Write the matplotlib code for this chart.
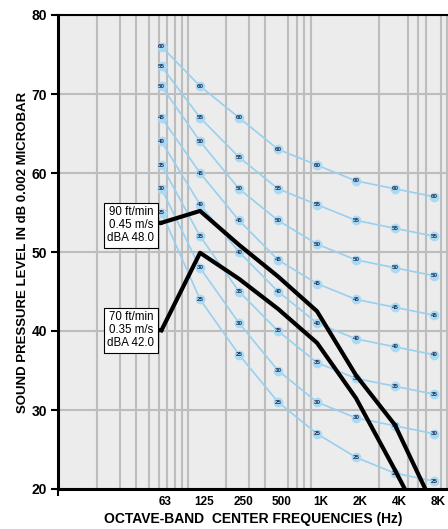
import numpy as np
import matplotlib
matplotlib.use('Agg')
import matplotlib.pyplot as plt
import matplotlib.ticker as mticker
import matplotlib.transforms as mtransforms

# octave band centre frequencies
bands = [63, 125, 250, 500, 1000, 2000, 4000, 8000]
band_labels = ['63', '125', '250', '500', '1K', '2K', '4K', '8K']

# NC curves
nc_names = [60, 55, 50, 45, 40, 35, 30, 25]
nc_60 = [76, 71, 67, 63, 61, 59, 58, 57]
nc_55 = [73.5, 67, 62, 58, 56, 54, 53, 52]
nc_50 = [71, 64, 58, 54, 51, 49, 48, 47]
nc_45 = [67, 60, 54, 49, 46, 44, 43, 42]
nc_40 = [64, 56, 50, 45, 41, 39, 38, 37]
nc_35 = [61, 52, 45, 40, 36, 34, 33, 32]
nc_30 = [58, 48, 41, 35, 31, 29, 28, 27]
nc_25 = [55, 44, 37, 31, 27, 24, 22, 21]
nc_curves = [nc_60, nc_55, nc_50, nc_45, nc_40, nc_35, nc_30, nc_25]

# measured spectra
spl_90fpm = [53.7, 55.2, 50.9, 46.9, 42.5, 34.4, 28.1, 17.7]
spl_70fpm = [40.1, 49.9, 46.6, 42.8, 38.5, 31.5, 22.4, 12.9]
box_90fpm = '90 ft/min\n0.45 m/s\ndBA 48.0'
box_70fpm = '70 ft/min\n0.35 m/s\ndBA 42.0'

plt.rcParams['font.family'] = ['Liberation Sans Narrow', 'Liberation Sans', 'DejaVu Sans']

fig = plt.figure(figsize=(4.48, 5.29), dpi=100)
ax = fig.add_axes([58/448, 40/529, 390/448, 474/529])
ax.set_facecolor('#ececec')

ax.set_xscale('log')
ax.set_xlim(10, 10**(1 + 390/129.5))
ax.set_ylim(20, 80)

# grid
grid_x = [m * 10**d for d in (1, 2, 3) for m in range(2, 11)]
ax.set_xticks(grid_x, minor=True)
ax.xaxis.set_minor_formatter(mticker.NullFormatter())
ax.tick_params(axis='x', which='minor', length=0)
ax.grid(True, which='minor', axis='x', color='#bdbdbd', lw=1.5)
ax.set_yticks([20, 30, 40, 50, 60, 70, 80])
ax.grid(True, which='major', axis='y', color='#bdbdbd', lw=1.5)
ax.set_axisbelow(True)

ax.set_xticks([10] + bands)
ax.set_xticklabels([''] + band_labels, fontsize=8.5, fontweight='bold',
                   family=['Liberation Sans', 'DejaVu Sans'])
ax.tick_params(axis='x', which='major', length=0, pad=5)
t0 = ax.xaxis.get_major_ticks()[0]
t0.tick1line.set_markersize(5)
t0.tick1line.set_markeredgewidth(1.5)
shift = mtransforms.ScaledTranslation(4/100, 0, fig.dpi_scale_trans)
for lab in ax.get_xticklabels():
    lab.set_transform(lab.get_transform() + shift)

ax.set_yticklabels([str(v) for v in [20, 30, 40, 50, 60, 70, 80]], fontsize=10,
                   fontweight='bold', family=['Liberation Sans', 'DejaVu Sans'])
ax.tick_params(axis='y', length=5, width=1.5, pad=3)

for s in ['left', 'bottom']:
    ax.spines[s].set_linewidth(2.2)
ax.spines['top'].set_linewidth(1.5)
ax.spines['right'].set_visible(False)

# NC curves with their number at every band
for name, vals in zip(nc_names, nc_curves):
    ax.plot(bands, vals, color='#98d0f0', lw=1.2, marker='o', ms=6,
            mfc='#a9daf4', mec='#a9daf4', zorder=2)
    for f, v in zip(bands, vals):
        ax.text(f, v, str(name), fontsize=4.5, fontweight='bold', color='#1e2d55',
                ha='center', va='center', zorder=3)

# measured curves
ax.plot(bands, spl_90fpm, color='black', lw=3, zorder=4)
ax.plot(bands, spl_70fpm, color='black', lw=3, zorder=4)

box = dict(boxstyle='square,pad=0.3', fc='white', ec='black', lw=0.8)
arrow = dict(arrowstyle='-', color='black', lw=3, shrinkA=0, shrinkB=0)
ax.annotate(box_90fpm, xy=(bands[0], spl_90fpm[0]), xytext=(36.6, 53.4),
            ha='center', va='center', fontsize=8.3, linespacing=1.12,
            family=['Liberation Sans', 'DejaVu Sans'], bbox=box, arrowprops=arrow, zorder=5)
ax.annotate(box_70fpm, xy=(bands[0], spl_70fpm[0]), xytext=(36.6, 40.1),
            ha='center', va='center', fontsize=8.3, linespacing=1.12,
            family=['Liberation Sans', 'DejaVu Sans'], bbox=box, arrowprops=arrow, zorder=5)

ax.set_ylabel('SOUND PRESSURE LEVEL IN dB 0.002 MICROBAR', fontsize=9.5,
              fontweight='bold')
ax.set_xlabel('OCTAVE-BAND  CENTER FREQUENCIES (Hz)', fontsize=10,
              fontweight='bold')
ax.yaxis.set_label_coords(-0.074, 0.5)
ax.xaxis.set_label_coords(0.5, -0.049)

fig.savefig('out.png', dpi=100)
